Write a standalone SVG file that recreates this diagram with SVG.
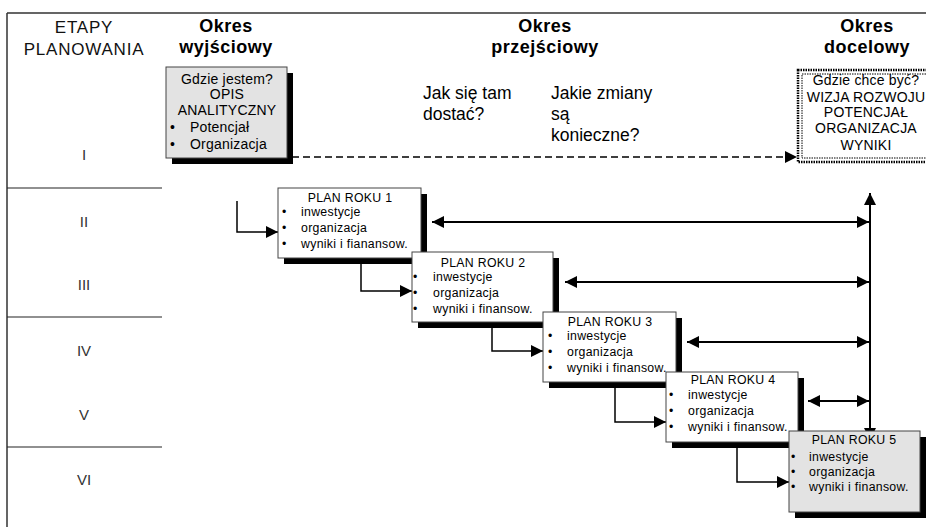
<svg xmlns="http://www.w3.org/2000/svg" width="926" height="527" viewBox="0 0 926 527">
<style>
text{font-family:"Liberation Sans",Arial,sans-serif;fill:#000}
.hdr{font-size:17px;letter-spacing:0.8px;text-anchor:middle;fill:#111}
.per{font-size:18px;font-weight:bold;text-anchor:middle;letter-spacing:0.5px}
.rom{font-size:15px;text-anchor:middle;fill:#333}
.q{font-size:17.5px}
.bx{font-size:14px;letter-spacing:0.2px}
.pl{font-size:12.3px;letter-spacing:0.3px}
.c{text-anchor:middle}
.frame{stroke:#333;stroke-width:1.5;fill:none}
.sep{stroke:#222;stroke-width:1.2;fill:none}
.box{stroke:#444;stroke-width:1;fill:#fff}
.gbox{stroke:#444;stroke-width:1;fill:#e3e3e3}
.shd{fill:#000}
.con{stroke:#000;stroke-width:1.5;fill:none}
.dbl{stroke:#000;stroke-width:2;fill:none}
</style>
<defs>
<marker id="ah" markerUnits="userSpaceOnUse" viewBox="0 0 12 12" refX="12" refY="6" markerWidth="12" markerHeight="12" orient="auto-start-reverse">
<path d="M0,0 L12,6 L0,12 z" fill="#000"/>
</marker>
</defs>
<rect width="926" height="527" fill="#fff"/>

<g id="frame">
<path class="frame" d="M7,13 H926 M7,13 V527"/>
<path class="sep" d="M7,188 H162 M7,317 H162 M7,447 H162"/>
</g>

<g id="headers">
<text class="hdr" x="84" y="33">ETAPY</text>
<text class="hdr" x="84" y="55">PLANOWANIA</text>
<text class="per" x="226" y="32">Okres</text>
<text class="per" x="226" y="53">wyjściowy</text>
<text class="per" x="545" y="32">Okres</text>
<text class="per" x="545" y="53">przejściowy</text>
<text class="per" x="867" y="32">Okres</text>
<text class="per" x="867" y="53">docelowy</text>
</g>

<g id="stages">
<text class="rom" x="84" y="160">I</text>
<text class="rom" x="84" y="227">II</text>
<text class="rom" x="84" y="290">III</text>
<text class="rom" x="84" y="356">IV</text>
<text class="rom" x="84" y="420">V</text>
<text class="rom" x="84" y="485">VI</text>
</g>

<g id="questions">
<text class="q" x="423" y="99">Jak się tam</text>
<text class="q" x="423" y="120">dostać?</text>
<text class="q" x="551" y="99">Jakie zmiany</text>
<text class="q" x="551" y="120">są</text>
<text class="q" x="551" y="141">konieczne?</text>
</g>

<g id="connectors">
<path class="con" d="M292,157 H797" stroke-width="2" stroke-dasharray="7 4" marker-end="url(#ah)"/>
<path class="con" d="M237,201 V232 H278" marker-end="url(#ah)"/>
<path class="con" d="M361,258 V291 H412" marker-end="url(#ah)"/>
<path class="con" d="M492,322 V351 H543" marker-end="url(#ah)"/>
<path class="con" d="M615,382 V422 H666" marker-end="url(#ah)"/>
<path class="con" d="M737,442 V482 H789" marker-end="url(#ah)"/>
<path class="dbl" d="M870,440 V193" marker-end="url(#ah)" marker-start="url(#ah)"/>
<path class="dbl" d="M432,222 H869" marker-start="url(#ah)" marker-end="url(#ah)"/>
<path class="dbl" d="M565,282 H869" marker-start="url(#ah)" marker-end="url(#ah)"/>
<path class="dbl" d="M687,342 H869" marker-start="url(#ah)" marker-end="url(#ah)"/>
<path class="dbl" d="M808,401 H869" marker-start="url(#ah)" marker-end="url(#ah)"/>
</g>

<g id="start">
<rect class="shd" x="172" y="73" width="121" height="91"/>
<rect class="gbox" x="166" y="67" width="121" height="91"/>
<text class="bx c" x="227" y="84">Gdzie jestem?</text>
<text class="bx c" x="227" y="99">OPIS</text>
<text class="bx c" x="227" y="115">ANALITYCZNY</text>
<text class="bx" x="170" y="132">•</text>
<text class="bx" x="190" y="132">Potencjał</text>
<text class="bx" x="170" y="149">•</text>
<text class="bx" x="190" y="149">Organizacja</text>
</g>

<g id="target">
<rect x="798" y="70" width="130" height="92" fill="#fff" stroke="#000" stroke-width="2.5" stroke-dasharray="1.5 1"/>
<rect x="802" y="74" width="126" height="84" fill="none" stroke="#000" stroke-width="1" stroke-dasharray="1.5 1"/>
<text class="bx c" x="866" y="85">Gdzie chce być?</text>
<text class="bx c" x="866" y="102">WIZJA ROZWOJU</text>
<text class="bx c" x="866" y="117">POTENCJAŁ</text>
<text class="bx c" x="866" y="133">ORGANIZACJA</text>
<text class="bx c" x="866" y="150">WYNIKI</text>
</g>

<g id="plan1">
<rect class="shd" x="284" y="194" width="143" height="70"/>
<rect class="box" x="278" y="188" width="143" height="70"/>
<text class="pl c" x="350" y="202">PLAN ROKU 1</text>
<text class="pl" x="282" y="216">•</text><text class="pl" x="301" y="216">inwestycje</text>
<text class="pl" x="282" y="232">•</text><text class="pl" x="301" y="232">organizacja</text>
<text class="pl" x="282" y="248">•</text><text class="pl" x="301" y="248">wyniki i fianansow.</text>
</g>

<g id="plan2">
<rect class="shd" x="418" y="258" width="141" height="70"/>
<rect class="box" x="412" y="252" width="141" height="70"/>
<text class="pl c" x="483" y="267">PLAN ROKU 2</text>
<text class="pl" x="413" y="281">•</text><text class="pl" x="433" y="281">inwestycje</text>
<text class="pl" x="413" y="297">•</text><text class="pl" x="433" y="297">organizacja</text>
<text class="pl" x="413" y="313">•</text><text class="pl" x="433" y="313">wyniki i finansow.</text>
</g>

<g id="plan3">
<rect class="shd" x="549" y="318" width="133" height="70"/>
<rect class="box" x="543" y="312" width="133" height="70"/>
<text class="pl c" x="610" y="326">PLAN ROKU 3</text>
<text class="pl" x="548" y="340">•</text><text class="pl" x="567" y="340">inwestycje</text>
<text class="pl" x="548" y="356">•</text><text class="pl" x="567" y="356">organizacja</text>
<text class="pl" x="548" y="372">•</text><text class="pl" x="567" y="372">wyniki i finansow.</text>
</g>

<g id="plan4">
<rect class="shd" x="672" y="378" width="132" height="70"/>
<rect class="box" x="666" y="372" width="132" height="70"/>
<text class="pl c" x="733" y="384">PLAN ROKU 4</text>
<text class="pl" x="669" y="399">•</text><text class="pl" x="688" y="399">inwestycje</text>
<text class="pl" x="669" y="415">•</text><text class="pl" x="688" y="415">organizacja</text>
<text class="pl" x="669" y="431">•</text><text class="pl" x="688" y="431">wyniki i finansow.</text>
</g>

<g id="plan5">
<rect class="shd" x="795" y="437" width="131" height="81"/>
<rect class="gbox" x="789" y="431" width="131" height="81"/>
<text class="pl c" x="854" y="444">PLAN ROKU 5</text>
<text class="pl" x="791" y="461">•</text><text class="pl" x="809" y="461">inwestycje</text>
<text class="pl" x="791" y="476">•</text><text class="pl" x="809" y="476">organizacja</text>
<text class="pl" x="791" y="491">•</text><text class="pl" x="809" y="491">wyniki i finansow.</text>
</g>
</svg>
